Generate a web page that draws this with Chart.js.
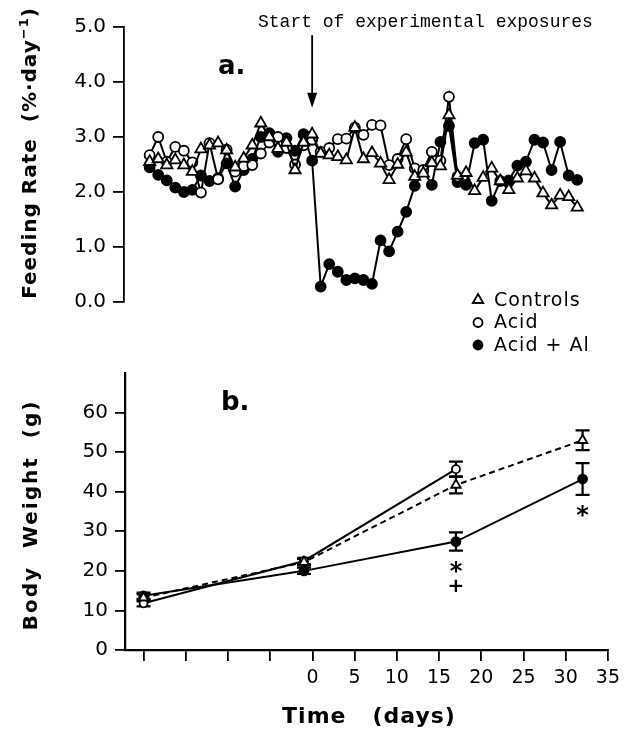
<!DOCTYPE html>
<html>
<head>
<meta charset="utf-8">
<script src="https://cdn.jsdelivr.net/npm/chart.js@4.4.1/dist/chart.umd.min.js"></script>
<style>
  body { margin: 0; background: #fff; width: 626px; height: 742px; overflow: hidden; position: relative; font-family: 'DejaVu Sans', sans-serif; color: #000; }
  canvas { position: absolute; left: 0; }
  #top { top: 0; }
  #bot { top: 330px; }
  .lbl { position: absolute; white-space: pre; line-height: 1; }
  .rot { position: absolute; white-space: pre; line-height: 1; font-weight: bold; transform: translate(-50%, -50%) rotate(-90deg); }
  #start { left: 258px; top: 13px; font-family: 'Liberation Mono', monospace; font-size: 18px; }
  .panel { font-weight: bold; font-size: 26px; }
</style>
</head>
<body>
<canvas id="top" width="626" height="360"></canvas>
<canvas id="bot" width="626" height="412"></canvas>
<div class="lbl" id="start">Start of experimental exposures</div>
<div class="lbl panel" style="left:218px;top:52px">a.</div>
<div class="lbl panel" style="left:221px;top:388px">b.</div>
<div class="rot" style="left:28px;top:153px;font-size:20px;letter-spacing:1px">Feeding Rate  (%·day<sup style="font-size:13px">−1</sup>)</div>
<div class="rot" style="left:30px;top:515px;font-size:20px;letter-spacing:2px">Body  Weight  (g)</div>
<div class="lbl" style="left:369px;top:716px;font-size:22px;font-weight:bold;letter-spacing:1px;transform:translate(-50%,-50%)">Time   (days)</div>
<script>
// feeding rate, daily readings
const feedDays = [-19, -18, -17, -16, -15, -14, -13, -12, -11, -10, -9, -8, -7, -6, -5, -4, -3, -2, -1, 0,
  1, 2, 3, 4, 5, 6, 7, 8, 9, 10, 11, 12, 13, 14, 15, 16, 17, 18, 19, 20, 21, 22, 23, 24, 25, 26, 27, 28, 29, 30, 31];
const feedControls = [2.55, 2.60, 2.49, 2.58, 2.49, 2.37, 2.78, 2.85, 2.89, 2.76, 2.45, 2.61, 2.85, 3.25, 3.00, 2.79, 2.90, 2.40, 2.90, 3.05,
  2.70, 2.67, 2.64, 2.58, 3.17, 2.60, 2.71, 2.52, 2.22, 2.50, 2.72, 2.28, 2.34, 2.53, 2.47, 3.40, 2.30, 2.35, 2.02, 2.26, 2.43, 2.20, 2.04, 2.25, 2.38, 2.25, 1.98, 1.76, 1.94, 1.91, 1.72];
const feedAcid = [2.67, 3.00, 2.55, 2.82, 2.75, 2.54, 1.99, 2.89, 2.23, 2.77, 2.37, 2.47, 2.49, 2.70, 2.90, 3.00, 2.80, 2.50, 2.85, 2.95,
  2.73, 2.80, 2.96, 2.97, 3.17, 3.04, 3.22, 3.21, 2.49, 2.60, 2.96, 2.43, 2.40, 2.73, 2.57, 3.73, 2.28,
  null, null, null, null, null, null, null, null, null, null, null, null, null, null];
const feedAcidAl = [2.45, 2.31, 2.21, 2.08, 2.00, 2.04, 2.30, 2.20, 2.25, 2.52, 2.10, 2.40, 2.60, 3.00, 3.07, 2.73, 2.98, 2.75, 3.05, 2.57,
  0.28, 0.69, 0.55, 0.40, 0.43, 0.40, 0.33, 1.12, 0.92, 1.28, 1.64, 2.11, 2.39, 2.13, 2.91, 3.20, 2.18, 2.13, 2.89, 2.95, 1.84, 2.20, 2.21, 2.48, 2.55, 2.95, 2.90, 2.40, 2.91, 2.30, 2.22];
const feedTicks = [0, 1, 2, 3, 4, 5];
const exposureStartDay = 0;

// body weight, mean and error
const weightDays = [-20, -1, 17, 32];
const weightControls = [13.2, 22.2, 41.7, 53.0];
const weightControlsErr = [0.9, 0.8, 2.1, 2.5];
const weightAcid = [11.8, 22.5, 45.7, null];
const weightAcidErr = [0.8, 0.8, 1.9, null];
const weightAcidAl = [13.7, 20.0, 27.4, 43.2];
const weightAcidAlErr = [0.8, 0.8, 2.3, 4.0];
const weightTicks = [0, 10, 20, 30, 40, 50, 60];
const timeTicks = [-20, -15, -10, -5, 0, 5, 10, 15, 20, 25, 30, 35];
const sigDays = [17, 32];
const sigMarks = [['*', '+'], ['*']];

const seriesNames = ['Controls', 'Acid', 'Acid + Al'];

Chart.defaults.font.family = "'DejaVu Sans', sans-serif";
Chart.defaults.color = '#000';

const markers = [
  { pointStyle: 'triangle', radius: 6.5, fill: '#fff' },
  { pointStyle: 'circle', radius: 5, fill: '#fff' },
  { pointStyle: 'circle', radius: 5, fill: '#000' }
];

const toXY = (xs, ys) => xs.map((x, i) => ({ x: x, y: ys[i] })).filter(p => p.y !== null);

const makeSet = (xs, ys, k, extra) => Object.assign({
  data: toXY(xs, ys),
  borderColor: '#000',
  borderWidth: 2,
  pointStyle: markers[k].pointStyle,
  pointRadius: markers[k].radius,
  pointBackgroundColor: markers[k].fill,
  pointBorderColor: '#000',
  pointBorderWidth: 1.8,
  tension: 0
}, extra || {});

const drawMarker = (ctx, k, x, y, r) => {
  const m = markers[k];
  const rad = r || m.radius;
  ctx.beginPath();
  if (m.pointStyle === 'triangle') {
    for (let j = 0; j < 3; j++) {
      const a = j * 2 * Math.PI / 3;
      const px = x + Math.sin(a) * rad, py = y - Math.cos(a) * rad;
      j === 0 ? ctx.moveTo(px, py) : ctx.lineTo(px, py);
    }
    ctx.closePath();
  } else {
    ctx.arc(x, y, rad, 0, Math.PI * 2);
  }
  ctx.fillStyle = m.fill;
  ctx.strokeStyle = '#000';
  ctx.lineWidth = 1.8;
  ctx.fill();
  ctx.stroke();
};

// arrow at exposure start + legend
const topExtras = {
  id: 'topExtras',
  afterDraw(chart) {
    const ctx = chart.ctx;
    const x = chart.scales.x.getPixelForValue(exposureStartDay);
    const y0 = chart.scales.y.getPixelForValue(4.85);
    const y1 = chart.scales.y.getPixelForValue(3.53);
    ctx.save();
    ctx.strokeStyle = '#000';
    ctx.fillStyle = '#000';
    ctx.lineWidth = 1.8;
    ctx.beginPath();
    ctx.moveTo(x, y0);
    ctx.lineTo(x, y1 - 10);
    ctx.stroke();
    ctx.beginPath();
    ctx.moveTo(x, y1);
    ctx.lineTo(x - 5, y1 - 15);
    ctx.lineTo(x + 5, y1 - 15);
    ctx.closePath();
    ctx.fill();

    ctx.font = "19px 'DejaVu Sans'";
    ctx.letterSpacing = '1px';
    ctx.textBaseline = 'middle';
    seriesNames.forEach((name, i) => {
      const ly = 300 + i * 22.5;
      drawMarker(ctx, i, 478, ly, i === 0 ? 6 : 4.5);
      ctx.fillStyle = '#000';
      ctx.fillText(name, 494, ly + 1);
    });
    ctx.restore();
  }
};

new Chart(document.getElementById('top'), {
  type: 'line',
  data: {
    datasets: [
      makeSet(feedDays, feedControls, 0),
      makeSet(feedDays, feedAcid, 1),
      makeSet(feedDays, feedAcidAl, 2)
    ]
  },
  options: {
    responsive: false,
    animation: false,
    layout: { padding: { top: 27, bottom: 58, left: 0, right: 12 } },
    plugins: { legend: { display: false }, tooltip: { enabled: false } },
    scales: {
      x: { type: 'linear', min: -22, max: 35.3, display: false },
      y: {
        min: 0, max: 5,
        afterBuildTicks: s => { s.ticks = feedTicks.map(v => ({ value: v })); },
        afterFit: s => { s.width = 124; },
        ticks: { callback: v => v.toFixed(1), font: { size: 20 }, color: '#000', padding: 7 },
        grid: { drawOnChartArea: false, tickLength: 11, color: '#000', lineWidth: 1.8 },
        border: { color: '#000', width: 1.8 }
      }
    }
  },
  plugins: [topExtras]
});

// error bars and significance marks
const botExtras = {
  id: 'botExtras',
  beforeDatasetsDraw(chart) {
    const ctx = chart.ctx, xs = chart.scales.x, ys = chart.scales.y;
    const groups = [[weightControls, weightControlsErr], [weightAcid, weightAcidErr], [weightAcidAl, weightAcidAlErr]];
    ctx.save();
    ctx.strokeStyle = '#000';
    ctx.lineWidth = 2.2;
    groups.forEach(([vals, errs]) => {
      weightDays.forEach((d, i) => {
        if (vals[i] === null) return;
        const x = xs.getPixelForValue(d);
        const yt = ys.getPixelForValue(vals[i] + errs[i]);
        const yb = ys.getPixelForValue(vals[i] - errs[i]);
        ctx.beginPath();
        ctx.moveTo(x, yt); ctx.lineTo(x, yb);
        ctx.moveTo(x - 7, yt); ctx.lineTo(x + 7, yt);
        ctx.moveTo(x - 7, yb); ctx.lineTo(x + 7, yb);
        ctx.stroke();
      });
    });
    ctx.restore();
  },
  afterDatasetsDraw(chart) {
    const ctx = chart.ctx, xs = chart.scales.x, ys = chart.scales.y;
    ctx.save();
    ctx.fillStyle = '#000';
    ctx.textAlign = 'center';
    ctx.textBaseline = 'alphabetic';
    sigDays.forEach((d, i) => {
      const k = weightDays.indexOf(d);
      const x = xs.getPixelForValue(d);
      const yLow = ys.getPixelForValue(weightAcidAl[k] - weightAcidAlErr[k]);
      sigMarks[i].forEach((t, j) => {
        ctx.font = t === '*' ? "bold 24px 'DejaVu Sans'" : "bold 20px 'DejaVu Sans'";
        const m = ctx.measureText(t);
        const cy = yLow + 16 + j * 19;
        ctx.fillText(t, x, cy + (m.actualBoundingBoxAscent - m.actualBoundingBoxDescent) / 2);
      });
    });
    ctx.restore();
  }
};

new Chart(document.getElementById('bot'), {
  type: 'line',
  data: {
    datasets: [
      makeSet(weightDays, weightControls, 0, { borderDash: [6, 4], borderWidth: 2, pointRadius: 5.5 }),
      makeSet(weightDays, weightAcid, 1, { borderWidth: 2, pointRadius: 4 }),
      makeSet(weightDays, weightAcidAl, 2, { borderWidth: 2, pointRadius: 4.5 })
    ]
  },
  options: {
    responsive: false,
    animation: false,
    layout: { padding: { top: 43, bottom: 0, left: 0, right: 12 } },
    plugins: { legend: { display: false }, tooltip: { enabled: false } },
    scales: {
      x: {
        type: 'linear', min: -22.2, max: 35,
        afterBuildTicks: s => { s.ticks = timeTicks.map(v => ({ value: v })); },
        afterFit: s => { s.height = 92; },
        ticks: { callback: v => (v < 0 ? '' : String(v)), font: { size: 19 }, color: '#000', padding: 6, maxRotation: 0, autoSkip: false },
        grid: { drawOnChartArea: false, tickLength: 11, color: '#000', lineWidth: 1.8 },
        border: { color: '#000', width: 2.2 }
      },
      y: {
        min: 0, max: 70,
        afterBuildTicks: s => { s.ticks = weightTicks.map(v => ({ value: v })); },
        afterFit: s => { s.width = 125; },
        ticks: { font: { size: 20 }, color: '#000', padding: 7 },
        grid: { drawOnChartArea: false, tickLength: 10, color: '#000', lineWidth: 1.8 },
        border: { color: '#000', width: 2.2 }
      }
    }
  },
  plugins: [botExtras]
});
</script>
</body>
</html>
